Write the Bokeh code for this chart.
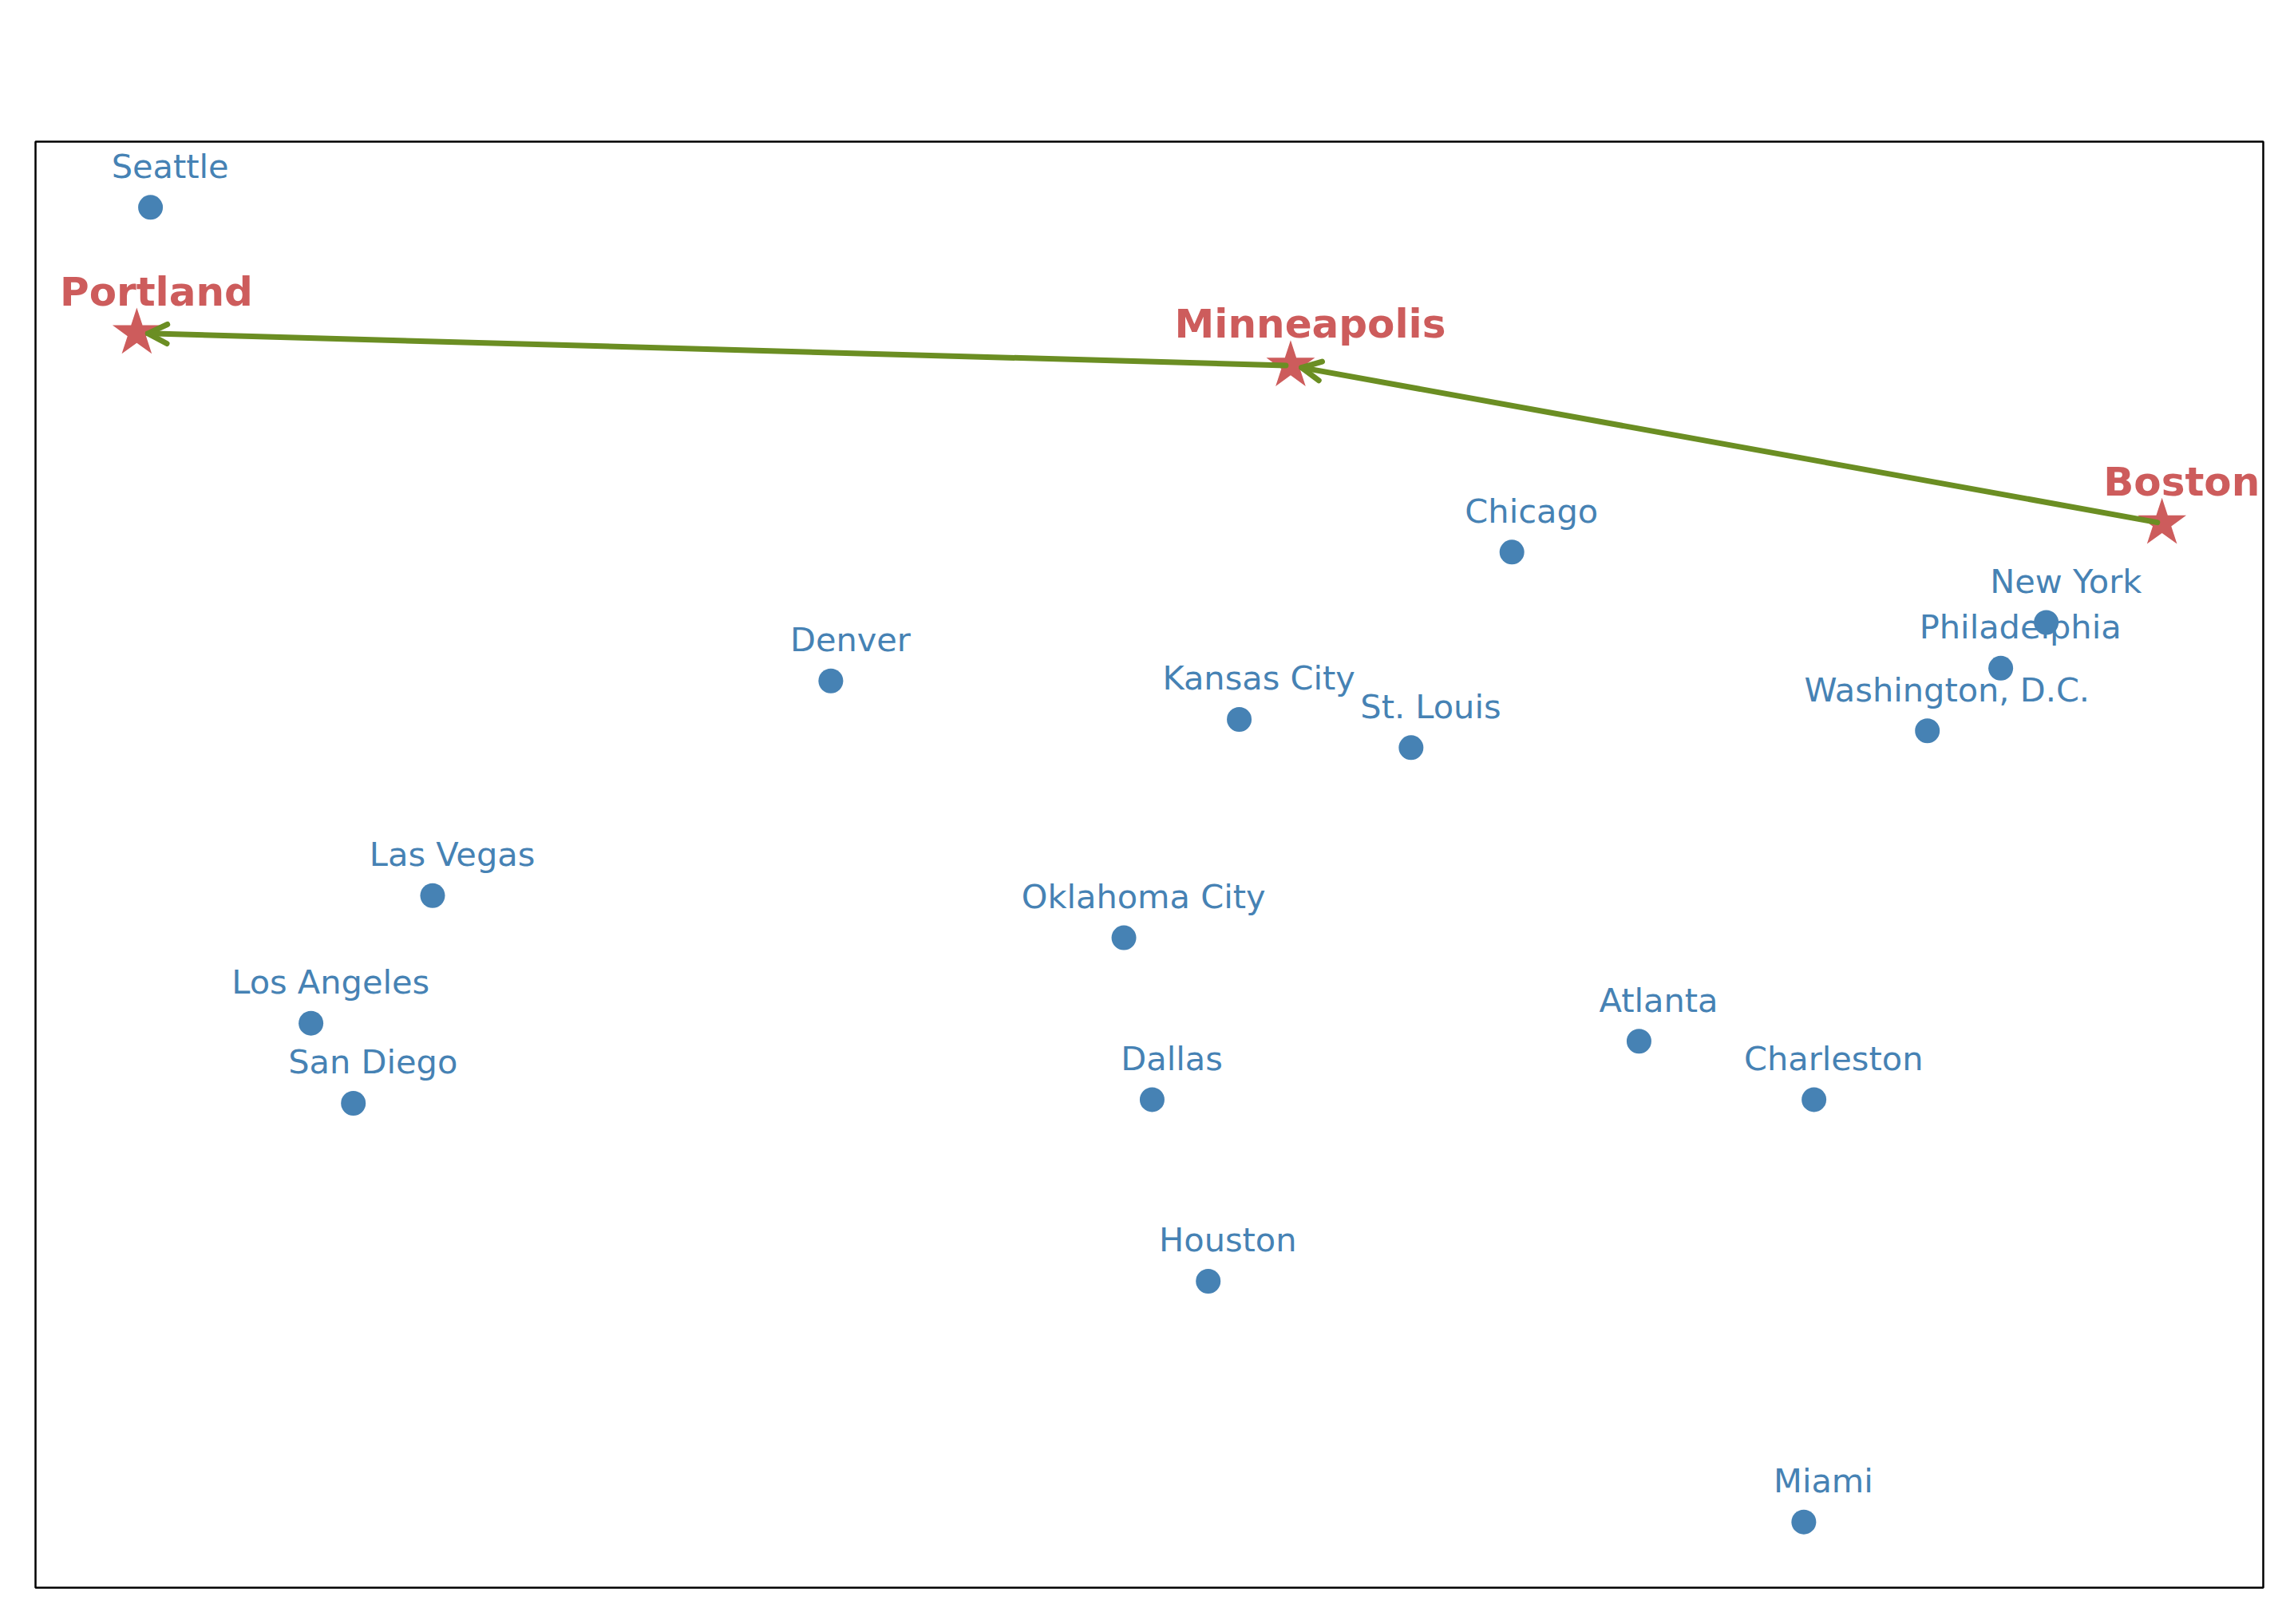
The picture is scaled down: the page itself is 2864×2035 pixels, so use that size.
import numpy as np
from bokeh.plotting import figure
from bokeh.models import Range1d, ColumnDataSource, Arrow, OpenHead
from bokeh.core.properties import value
from bokeh.embed import file_html
from bokeh.resources import INLINE

# Cities (longitude, latitude)
city_names = ["Seattle", "Chicago", "New York", "Philadelphia", "Washington, D.C.",
              "Denver", "Kansas City", "St. Louis", "Las Vegas", "Oklahoma City",
              "Los Angeles", "San Diego", "Dallas", "Atlanta", "Charleston",
              "Houston", "Miami"]
city_lon = [-122.33, -87.63, -74.01, -75.17, -77.04,
            -104.99, -94.58, -90.20, -115.14, -97.52,
            -118.24, -117.16, -96.80, -84.39, -79.93,
            -95.37, -80.19]
city_lat = [47.61, 41.88, 40.71, 39.95, 38.91,
            39.74, 39.10, 38.63, 36.17, 35.47,
            34.05, 32.72, 32.78, 33.75, 32.78,
            29.76, 25.76]

route_names = ["Boston", "Minneapolis", "Portland"]
route_lon = [-71.06, -93.27, -122.68]
route_lat = [42.36, 44.98, 45.52]

# layout
W, H = 2848, 2019
FW, FH = 2791, 1812
LEFT, TOP = 44, 177

all_lon = np.array(city_lon + route_lon)
all_lat = np.array(city_lat + route_lat)
dx = all_lon.max() - all_lon.min()
dy = all_lat.max() - all_lat.min()
x0, x1 = all_lon.min() - 0.05 * dx, all_lon.max() + 0.05 * dx
y0, y1 = all_lat.min() - 0.05 * dy, all_lat.max() + 0.05 * dy
sx = FW / (x1 - x0)
sy = FH / (y1 - y0)

p = figure(width=W, height=H, output_backend="svg", toolbar_location=None,
           x_range=Range1d(x0, x1), y_range=Range1d(y0, y1),
           x_axis_location=None, y_axis_location=None,
           min_border_left=LEFT, min_border_top=TOP,
           min_border_right=W - LEFT - FW, min_border_bottom=H - TOP - FH)
p.grid.visible = False
p.outline_line_color = "black"
p.outline_line_width = 2.5
p.background_fill_color = "white"
p.border_fill_color = "white"

dy_lab = 0.5 + 14 / sy
cities = ColumnDataSource(dict(name=city_names, x=city_lon, y=city_lat,
                               lx=[v + 0.5 for v in city_lon],
                               ly=[v + dy_lab for v in city_lat]))
route = ColumnDataSource(dict(name=route_names, x=route_lon, y=route_lat,
                              lx=[v + 0.5 for v in route_lon],
                              ly=[v + dy_lab for v in route_lat]))

p.text(x="lx", y="ly", text="name", source=cities, text_color="#4682B4",
       text_font=value("DejaVu Sans"), text_font_size="41.5px",
       text_align="center", text_baseline="alphabetic")
p.text(x="lx", y="ly", text="name", source=route, text_color="#CD5C5C",
       text_font=value("DejaVu Sans"), text_font_size="50px", text_font_style="bold",
       text_align="center", text_baseline="alphabetic")

p.scatter(x="x", y="y", source=cities, size=31, marker="circle",
          fill_color="#4682B4", line_color=None)
p.scatter(x="x", y="y", source=route, size=64, marker="star",
          fill_color="#CD5C5C", line_color=None)

# arrows, shrunk in screen space
for i in range(len(route_names) - 1):
    ax, ay = route_lon[i], route_lat[i]
    bx, by = route_lon[i + 1], route_lat[i + 1]
    vx, vy = (bx - ax) * sx, (by - ay) * sy
    L = np.hypot(vx, vy)
    ux, uy = vx / L, vy / L
    s0, s1 = 6, 14
    xs, ys = ax + ux * s0 / sx, ay + uy * s0 / sy
    xe, ye = bx - ux * s1 / sx, by - uy * s1 / sy
    head = OpenHead(size=24, line_color="#6B8E23", line_width=7,
                    line_cap="round", line_join="round")
    p.add_layout(Arrow(end=head, x_start=xs, y_start=ys, x_end=xe, y_end=ye,
                       line_color="#6B8E23", line_width=7, line_cap="round"))

open("out.html", "w").write(file_html(p, INLINE))
